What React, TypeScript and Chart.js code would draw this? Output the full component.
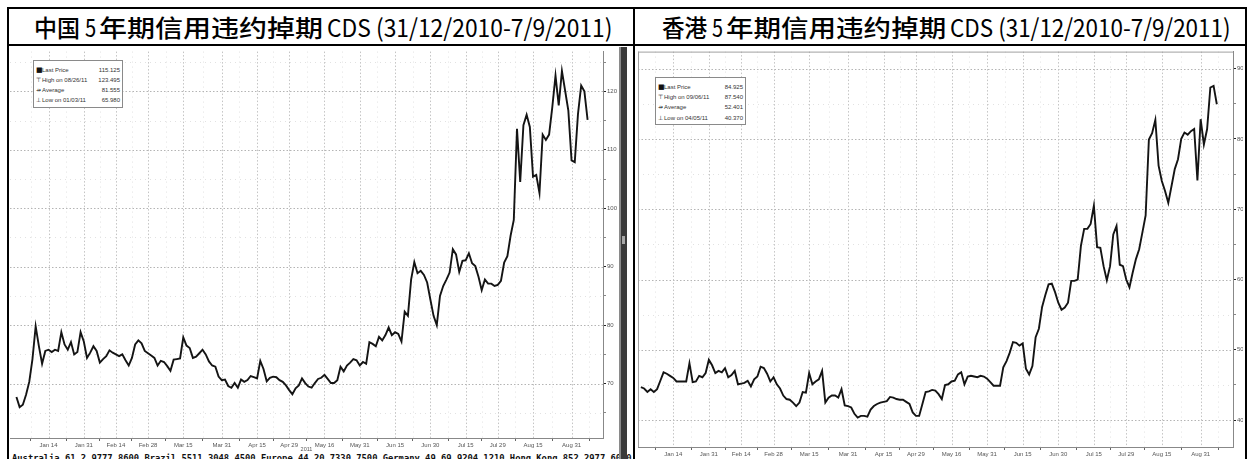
import React, { useEffect, useLayoutEffect, useRef } from 'react';
import { Chart, registerables } from 'chart.js';
Chart.register(...registerables);

// ---- data (business days 31/12/2010 .. 7/9/2011, index 0..178) ----
const cnValues = [
  67.7, 65.98, 66.4, 68.1, 70.3, 74.2, 79.8, 76.4, 73.4, 75.6,
  75.8, 75.4, 75.8, 75.6, 78.8, 76.7, 75.8, 77.1, 75.0, 75.4,
  78.8, 77.2, 74.4, 75.3, 76.4, 75.6, 73.6, 74.2, 74.7, 75.7,
  75.3, 75.0, 74.7, 75.0, 74.0, 73.1, 74.4, 76.7, 77.4, 76.9,
  75.6, 75.2, 74.8, 74.4, 73.1, 73.9, 73.7, 73.0, 72.2, 74.1,
  74.2, 74.3, 77.9, 76.5, 76.1, 74.4, 74.6, 75.2, 75.8, 75.0,
  73.8, 73.1, 72.9, 71.2, 70.6, 70.7, 69.6, 69.3, 70.1, 69.3,
  70.7, 70.3, 70.6, 71.3, 71.1, 70.9, 73.9, 72.5, 70.4, 71.0,
  71.2, 71.1, 70.6, 70.3, 69.7, 68.9, 68.2, 69.2, 69.7, 70.9,
  70.1, 69.5, 69.3, 70.1, 70.8, 71.0, 71.5, 70.8, 70.1, 70.1,
  70.6, 72.9, 72.1, 73.1, 73.6, 74.2, 74.0, 73.1, 73.7, 73.4,
  77.1, 76.8, 76.4, 78.0, 77.4, 78.3, 79.6, 78.3, 78.8, 78.5,
  77.2, 82.3, 81.6, 87.8, 90.8, 88.9, 89.3, 88.6, 87.3, 84.4,
  81.6, 80.0, 85.0, 86.7, 87.8, 89.0, 93.0, 92.1, 89.1, 91.0,
  91.1, 92.3, 90.6, 90.1, 88.3, 86.0, 87.8, 87.1, 87.1, 86.7,
  86.9, 87.6, 90.7, 91.8, 95.3, 98.0, 113.6, 104.5, 114.2, 116.0,
  113.9, 105.4, 105.7, 102.6, 112.6, 111.7, 112.6, 117.3, 122.7, 117.6,
  123.495, 120.1, 116.7, 108.2, 107.9, 116.1, 121.0, 120.0, 115.125,
];

const hkValues = [
  44.7, 44.5, 44.0, 44.4, 44.0, 44.4, 45.6, 46.8, 46.6, 46.3,
  46.0, 45.5, 45.5, 45.5, 45.5, 48.1, 45.4, 45.5, 46.3, 46.1,
  46.7, 48.6, 47.8, 46.7, 47.0, 46.8, 47.4, 46.1, 46.4, 47.0,
  45.1, 45.2, 45.3, 45.6, 44.8, 45.8, 46.2, 47.6, 47.4, 46.6,
  45.5, 46.1, 45.1, 44.5, 43.5, 43.0, 42.9, 42.5, 42.0, 42.5,
  44.0, 43.9, 46.7, 45.1, 45.5, 45.8, 47.0, 42.5, 43.2, 43.5,
  43.5, 43.2, 44.4, 42.1, 42.0, 41.8, 40.9, 40.37, 40.6, 40.6,
  40.5, 41.5, 42.0, 42.3, 42.5, 42.6, 42.7, 43.3, 43.2, 43.0,
  42.9, 42.9, 42.6, 42.3, 41.1, 40.6, 40.6, 42.3, 44.0, 44.1,
  44.3, 44.2, 43.7, 43.0, 45.0, 45.1, 45.5, 45.6, 46.5, 46.8,
  45.1, 46.2, 46.3, 46.2, 46.1, 46.3, 46.2, 45.9, 45.4, 44.9,
  44.9, 44.9, 47.5, 48.4, 49.6, 51.1, 51.0, 50.6, 50.9, 47.3,
  46.5, 47.7, 51.8, 53.0, 56.1, 57.8, 59.3, 59.4, 58.2, 56.7,
  55.7, 56.0, 56.7, 59.8, 59.8, 60.0, 64.8, 67.2, 67.2, 67.9,
  70.5, 64.6, 64.5, 61.9, 59.9, 61.9, 66.4, 67.6, 62.1, 61.9,
  60.0, 58.9, 61.0, 62.9, 64.3, 66.7, 69.1, 79.9, 80.8, 82.7,
  76.2, 74.0, 72.6, 70.9, 73.3, 75.7, 77.1, 80.0, 80.9, 80.6,
  81.1, 81.4, 74.1, 82.8, 79.2, 81.4, 87.3, 87.54, 84.925,
];

const xTickIdx = [10, 21, 31, 41, 52, 64, 75, 85, 96, 107, 118, 129, 140, 150, 161, 173];
const xTickLabels = ['Jan 14', 'Jan 31', 'Feb 14', 'Feb 28', 'Mar 15', 'Mar 31', 'Apr 15', 'Apr 29',
  'May 16', 'May 31', 'Jun 15', 'Jun 30', 'Jul 15', 'Jul 29', 'Aug 15', 'Aug 31'];
const xYearLabel = '2011';

const cnYTicks = [70, 80, 90, 100, 110, 120];
const cnYMinor = [65, 75, 85, 95, 105, 115, 125];
const hkYTicks = [40, 50, 60, 70, 80, 90];
const hkYMinor = [45, 55, 65, 75, 85];

const cnLegendLabels = ['Last Price', 'High on 08/26/11', 'Average', 'Low on 01/03/11'];
const cnLegendValues = ['115.125', '123.495', '81.555', '65.980'];
const hkLegendLabels = ['Last Price', 'High on 09/06/11', 'Average', 'Low on 04/05/11'];
const hkLegendValues = ['84.925', '87.540', '52.401', '40.370'];
const legendSymbols = ['\u25A0', '\u22A4', '\u21F8', '\u22A5'];

const cnTitleParts = ['中国', '5', '年期信用违约掉期', 'CDS (31/12/2010-7/9/2011)'];
const hkTitleParts = ['香港', '5', '年期信用违约掉期', 'CDS (31/12/2010-7/9/2011)'];
const footerText = 'Australia 61 2 9777 8600 Brazil 5511 3048 4500 Europe 44 20 7330 7500 Germany 49 69 9204 1210 Hong Kong 852 2977 6000';

// minor x ticks halfway between labelled ones
const xMinorIdx = (() => {
  const out: number[] = [xTickIdx[0] - 5.5];
  for (let i = 0; i < xTickIdx.length - 1; i++) out.push((xTickIdx[i] + xTickIdx[i + 1]) / 2);
  out.push(xTickIdx[xTickIdx.length - 1] + 5.5);
  return out;
})();

const dotGrid = {
  id: 'dotGrid',
  beforeDatasetsDraw(chart: any, _args: any, opts: any) {
    const { ctx, chartArea: a, scales } = chart;
    const x = scales.x, y = scales.y;
    ctx.save();
    ctx.lineWidth = 1;
    const hline = (v: number, color: string, dash: number[]) => {
      const py = Math.round(y.getPixelForValue(v)) + 0.5;
      if (py < a.top || py > a.bottom) return;
      ctx.strokeStyle = color; ctx.setLineDash(dash);
      ctx.beginPath(); ctx.moveTo(a.left, py); ctx.lineTo(a.right, py); ctx.stroke();
    };
    const vline = (v: number, color: string, dash: number[]) => {
      const px = Math.round(x.getPixelForValue(v)) + 0.5;
      if (px < a.left || px > a.right) return;
      ctx.strokeStyle = color; ctx.setLineDash(dash);
      ctx.beginPath(); ctx.moveTo(px, a.top); ctx.lineTo(px, a.bottom); ctx.stroke();
    };
    (opts.yMinor || []).forEach((v: number) => hline(v, '#e2e2e2', [1, 4]));
    (opts.xMinor || []).forEach((v: number) => vline(v, '#e2e2e2', [1, 4]));
    (opts.yMajor || []).forEach((v: number) => hline(v, '#b4b4b4', [1.5, 2]));
    (opts.xMajor || []).forEach((v: number) => vline(v, '#c4c4c4', [1.5, 2]));
    if (opts.frameTop) {
      ctx.setLineDash([]); ctx.strokeStyle = '#a0a0a0';
      ctx.beginPath(); ctx.moveTo(a.left, a.top + 0.5); ctx.lineTo(a.right, a.top + 0.5); ctx.stroke();
      ctx.beginPath(); ctx.moveTo(a.left + 0.5, a.top); ctx.lineTo(a.left + 0.5, a.bottom); ctx.stroke();
    }
    ctx.restore();
  },
};

type CfgProps = {
  values: number[];
  xMin: number; xMax: number;
  yMin: number; yMax: number;
  yMajor: number[]; yMinor: number[];
  width: number; height: number;
  padTop: number; xAxisH: number; yAxisW: number;
  frameTop: boolean;
};

function CdsChart(p: CfgProps) {
  const ref = useRef<HTMLCanvasElement | null>(null);
  useEffect(() => {
    if (!ref.current) return;
    const labelMap: Record<number, string> = {};
    xTickIdx.forEach((v, i) => { labelMap[v] = xTickLabels[i]; });
    const allY = [...p.yMajor, ...p.yMinor].sort((a, b) => a - b).filter(v => v >= p.yMin && v <= p.yMax);
    const allX = [...xTickIdx, ...xMinorIdx].sort((a, b) => a - b).filter(v => v >= p.xMin && v <= p.xMax);
    const chart = new Chart(ref.current, {
      type: 'line',
      data: {
        datasets: [{
          data: p.values.map((v, i) => ({ x: i, y: v })),
          borderColor: '#141414',
          borderWidth: 1.9,
          pointRadius: 0,
          tension: 0,
          fill: false,
        }],
      },
      plugins: [dotGrid],
      options: {
        animation: false,
        responsive: false,
        devicePixelRatio: 1,
        layout: { padding: { top: p.padTop, left: 0, right: 0, bottom: 0 } },
        plugins: {
          legend: { display: false },
          tooltip: { enabled: false },
          dotGrid: { yMajor: p.yMajor, yMinor: p.yMinor, xMajor: xTickIdx, xMinor: xMinorIdx, frameTop: p.frameTop },
        } as any,
        scales: {
          x: {
            type: 'linear',
            min: p.xMin,
            max: p.xMax,
            afterBuildTicks: (s: any) => { s.ticks = allX.map(v => ({ value: v })); },
            afterFit: (s: any) => { s.height = p.xAxisH; },
            ticks: {
              autoSkip: false,
              maxRotation: 0,
              minRotation: 0,
              padding: 1,
              color: '#555',
              font: { size: 6, family: 'Liberation Sans' },
              callback: (v: any) => labelMap[v as number] || '',
            },
            grid: {
              drawOnChartArea: false,
              drawTicks: true,
              tickLength: 3,
              tickColor: (c: any) => (c.tick && labelMap[c.tick.value] === undefined ? '#666' : 'rgba(0,0,0,0)'),
            },
            border: { display: true, color: '#888', width: 1 },
            title: {
              display: true,
              text: xYearLabel,
              color: '#555',
              font: { size: 5.5, family: 'Liberation Sans' },
              padding: { top: 0, bottom: 0 },
            },
          },
          y: {
            type: 'linear',
            position: 'right',
            min: p.yMin,
            max: p.yMax,
            afterBuildTicks: (s: any) => { s.ticks = allY.map(v => ({ value: v })); },
            afterFit: (s: any) => { s.width = p.yAxisW; },
            ticks: {
              padding: 1,
              color: '#555',
              font: { size: 6, family: 'Liberation Sans' },
              callback: (v: any) => (p.yMajor.includes(v as number) ? String(v) : ''),
            },
            grid: {
              drawOnChartArea: false,
              drawTicks: true,
              tickLength: 3,
              tickColor: (c: any) => (c.tick && p.yMajor.includes(c.tick.value) ? '#222' : '#888'),
            },
            border: { display: true, color: '#888', width: 1 },
          },
        },
      },
    } as any);
    return () => chart.destroy();
  }, []);
  return <canvas ref={ref} width={p.width} height={p.height} style={{ width: p.width, height: p.height, display: 'block' }} />;
}

function Legend({ left, top, width, height, padTop, rowH, labels, values }: any) {
  return (
    <div style={{
      position: 'absolute', left, top, width, height, boxSizing: 'border-box',
      border: '1px solid #8a8a8a', background: '#fff', paddingTop: padTop,
      fontFamily: '"Liberation Sans", "DejaVu Sans", sans-serif', fontSize: 6, color: '#333',
    }}>
      {labels.map((l: string, i: number) => (
        <div key={i} style={{ display: 'flex', height: rowH, lineHeight: rowH + 'px', padding: '0 2px 0 2px' }}>
          <span style={{ width: 6, fontSize: i === 0 ? 7 : 6, color: '#111', fontFamily: '"DejaVu Sans", sans-serif' }}>{legendSymbols[i]}</span>
          <span style={{ flex: 1 }}>{l}</span>
          <span>{values[i]}</span>
        </div>
      ))}
    </div>
  );
}

// text squeezed horizontally to a target width (stays real text)
function FitText({ text, left, width, style }: any) {
  const ref = useRef<HTMLSpanElement | null>(null);
  useLayoutEffect(() => {
    const fit = () => {
      const el = ref.current;
      if (!el) return;
      const w = el.offsetWidth;
      if (w > 0) el.style.transform = `scaleX(${width / w})`;
    };
    fit();
    if ((document as any).fonts && (document as any).fonts.ready) (document as any).fonts.ready.then(fit);
  }, []);
  return (
    <span ref={ref} style={{
      position: 'absolute', left, top: 0, lineHeight: '35px', whiteSpace: 'pre',
      transformOrigin: '0 50%', display: 'inline-block', ...style,
    }}>{text}</span>
  );
}

function Title({ x0, s, parts }: any) {
  const cjk = { fontFamily: '"Noto Sans CJK SC", sans-serif', fontSize: 24, fontWeight: 500, color: '#000' };
  const lat = { fontFamily: '"Noto Sans CJK SC", sans-serif', fontSize: 24.5, fontWeight: 400, color: '#000' };
  return (
    <div style={{ position: 'absolute', left: 0, top: 9, width: 1247, height: 35 }}>
      <FitText text={parts[0]} left={x0} width={46 * s} style={cjk} />
      <FitText text={parts[1]} left={x0 + 51 * s} width={11.5 * s} style={lat} />
      <FitText text={parts[2]} left={x0 + 65 * s} width={224 * s} style={cjk} />
      <FitText text={parts[3]} left={x0 + 293 * s} width={285 * s} style={lat} />
    </div>
  );
}

export default function App() {
  return (
    <div style={{ position: 'fixed', left: 0, top: 0, width: 1247, height: 459, overflow: 'hidden', background: '#fff' }}>
      {/* table frame */}
      <div style={{ position: 'absolute', left: 7, top: 7, width: 1240, height: 470, border: '2px solid #000', boxSizing: 'border-box' }} />
      <div style={{ position: 'absolute', left: 7, top: 44, width: 1240, height: 2, background: '#000' }} />
      <div style={{ position: 'absolute', left: 633, top: 7, width: 2, height: 460, background: '#000' }} />

      <Title x0={34} s={1} parts={cnTitleParts} />
      <Title x0={662} s={0.983} parts={hkTitleParts} />

      {/* left chart */}
      <div style={{ position: 'absolute', left: 10, top: 47 }}>
        <CdsChart values={cnValues} xMin={-2} xMax={182.8} yMin={60.7} yMax={126.8}
          yMajor={cnYTicks} yMinor={cnYMinor} width={608} height={406}
          padTop={1} xAxisH={15} yAxisW={15} frameTop={false} />
      </div>
      <Legend left={33} top={60} width={90} height={48} padTop={4} rowH={10}
        labels={cnLegendLabels} values={cnLegendValues} />
      <div style={{
        position: 'absolute', left: 12, top: 453, width: 620, whiteSpace: 'pre', lineHeight: '11px',
        fontFamily: '"DejaVu Sans Mono", monospace', fontWeight: 700, fontSize: 8.8, color: '#111',
      }}>{footerText}</div>
      {/* splitter bar */}
      <div style={{ position: 'absolute', left: 619, top: 47, width: 8, height: 412, background: '#3a3a3a', borderLeft: '2px solid #8a8a8a', boxSizing: 'border-box' }} />
      <div style={{ position: 'absolute', left: 622, top: 236, width: 3, height: 8, background: '#a8a8a8' }} />

      {/* right chart */}
      <div style={{ position: 'absolute', left: 638, top: 47 }}>
        <CdsChart values={hkValues} xMin={-0.9} xMax={183} yMin={36.18} yMax={92.41}
          yMajor={hkYTicks} yMinor={hkYMinor} width={605} height={420}
          padTop={3} xAxisH={20} yAxisW={10} frameTop={true} />
      </div>
      <Legend left={655} top={77} width={91} height={48} padTop={4} rowH={10.2}
        labels={hkLegendLabels} values={hkLegendValues} />
    </div>
  );
}
